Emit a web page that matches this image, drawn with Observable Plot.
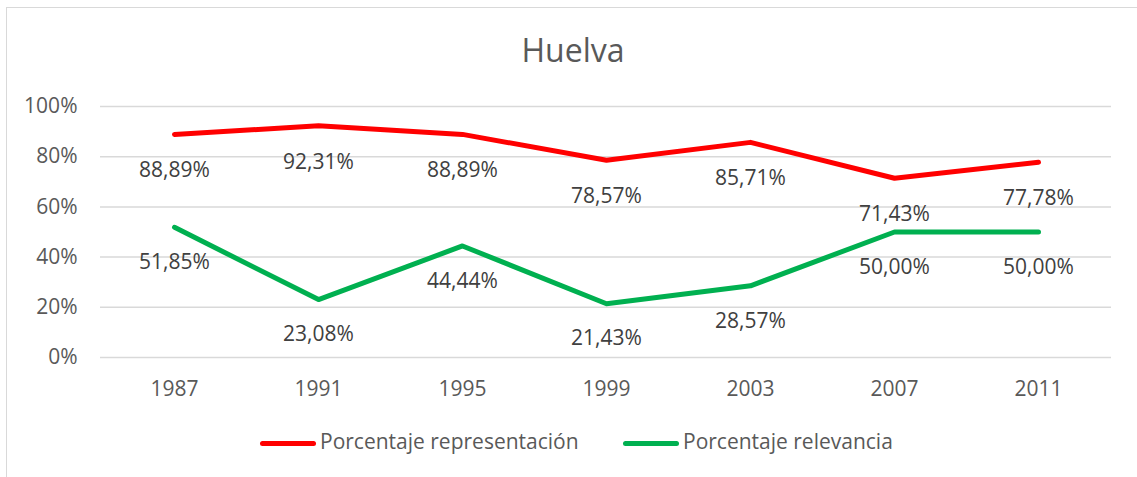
<!DOCTYPE html>
<html>
<head>
<meta charset="utf-8">
<script src="https://cdn.jsdelivr.net/npm/d3@7"></script>
<script src="https://cdn.jsdelivr.net/npm/@observablehq/plot@0.6"></script>
<style>
  html, body { margin: 0; padding: 0; background: #fff; }
  #wrap { position: relative; width: 1137px; height: 477px; overflow: hidden; font-family: "Open Sans", sans-serif; color: #595959; }
  #frame { position: absolute; left: 6px; top: 7px; width: 1140px; height: 480px; border: 1.5px solid #d9d9d9; box-sizing: border-box; }
  #title { position: absolute; left: 0; width: 1146px; top: 28px; text-align: center; font-size: 32px; line-height: 44px; color: #595959; }
  #chart { position: absolute; left: 0; top: 0; }
  .leg { position: absolute; top: 426px; font-size: 21px; line-height: 30px; height: 30px; color: #595959; white-space: nowrap; }
  .leg span.sw { display: inline-block; width: 56px; height: 5px; border-radius: 3px; vertical-align: middle; margin-right: 4px; position: relative; top: 0px; }
</style>
</head>
<body>
<div id="wrap">
  <div id="frame"></div>
  <div id="chart"></div>
  <div id="title">Huelva</div>
  <div id="legend"></div>
</div>
<script>
const years = ["1987", "1991", "1995", "1999", "2003", "2007", "2011"];
const representacion = [88.89, 92.31, 88.89, 78.57, 85.71, 71.43, 77.78];
const relevancia = [51.85, 23.08, 44.44, 21.43, 28.57, 50.00, 50.00];
const seriesNames = ["Porcentaje representación", "Porcentaje relevancia"];
const seriesColors = ["#ff0000", "#00b050"];
const yTicks = [0, 20, 40, 60, 80, 100];

const fmt = v => v.toFixed(2).replace(".", ",") + "%";

const rows = [];
years.forEach((y, i) => {
  rows.push({year: y, value: representacion[i], series: seriesNames[0]});
  rows.push({year: y, value: relevancia[i], series: seriesNames[1]});
});
const redRows = rows.filter(d => d.series === seriesNames[0]);
const greenRows = rows.filter(d => d.series === seriesNames[1]);

const chart = Plot.plot({
  width: 1137,
  height: 477,
  marginLeft: 100,
  marginRight: 26,
  marginTop: 106,
  marginBottom: 120,
  style: {fontFamily: "'Open Sans', sans-serif", fontSize: "21px", color: "#595959", background: "transparent"},
  x: {type: "point", domain: years, padding: 0.5, label: null},
  y: {domain: [0, 100], label: null},
  color: {domain: seriesNames, range: seriesColors},
  marks: [
    Plot.gridY(yTicks, {stroke: "#d9d9d9", strokeOpacity: 1, strokeWidth: 1.5}),
    Plot.axisY(yTicks, {tickSize: 0, tickPadding: 23, tickFormat: d => d + "%", fill: "#595959", fontSize: 21, label: null}),
    Plot.axisX({tickSize: 0, tickPadding: 24, fill: "#595959", fontSize: 21, label: null}),
    Plot.line(rows, {x: "year", y: "value", z: "series", stroke: "series", strokeWidth: 5, strokeLinecap: "round", strokeLinejoin: "round"}),
    Plot.text(redRows, {x: "year", y: "value", text: d => fmt(d.value), dy: 36, fill: "#404040", fontSize: 21}),
    Plot.text(greenRows, {x: "year", y: "value", text: d => fmt(d.value), dy: 35, fill: "#404040", fontSize: 21})
  ]
});
document.getElementById("chart").appendChild(chart);

const legend = document.getElementById("legend");
const legLeft = [260, 623];
seriesNames.forEach((name, i) => {
  const div = document.createElement("div");
  div.className = "leg";
  div.style.left = legLeft[i] + "px";
  const sw = document.createElement("span");
  sw.className = "sw";
  sw.style.background = seriesColors[i];
  div.appendChild(sw);
  div.appendChild(document.createTextNode(name));
  legend.appendChild(div);
});
</script>
</body>
</html>
